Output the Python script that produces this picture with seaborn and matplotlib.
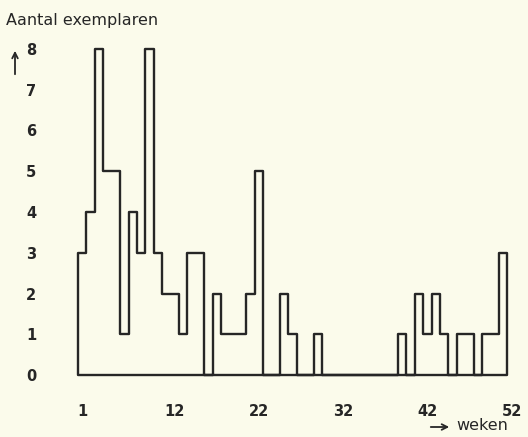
import numpy as np
import matplotlib
matplotlib.use("Agg")
import matplotlib.pyplot as plt
import seaborn as sns
import pandas as pd

# weekly counts (weeks 1..51 as drawn)
weeks = list(range(1, 52))
counts = [3, 4, 8, 5, 5, 1, 4, 3, 8, 3,
          2, 2, 1, 3, 3, 0, 2, 1, 1, 1,
          2, 5, 0, 0, 2, 1, 0, 0, 1, 0,
          0, 0, 0, 0, 0, 0, 0, 0, 1, 0,
          2, 1, 2, 1, 0, 1, 1, 0, 1, 1, 3]
x_ticks = [1, 12, 22, 32, 42, 52]
y_ticks = [0, 1, 2, 3, 4, 5, 6, 7, 8]

bg = "#fbfbeb"
ink = "#262626"

sns.set_style("white")
plt.rcParams["font.family"] = ["DejaVu Sans"]

df = pd.DataFrame({"week": weeks, "count": counts})

fig = plt.figure(figsize=(5.28, 4.37), dpi=100, facecolor=bg)
ax = fig.add_axes([78 / 528, 62 / 437, 437.8 / 528, 326 / 437], facecolor=bg)

sns.histplot(data=df, x="week", weights="count", binwidth=1,
             binrange=(0.5, 51.5), element="step", fill=True,
             facecolor="none", color=ink, linewidth=1.7, ax=ax)

ax.set_xlim(0.5, 52.5)
ax.set_ylim(0, 8)
for s in ax.spines.values():
    s.set_visible(False)
for c in ax.collections:
    c.set_clip_on(False)

ax.set_xticks(x_ticks)
ax.set_yticks(y_ticks)
ax.tick_params(axis="both", length=0, labelsize=10.5, colors=ink)
ax.tick_params(axis="x", pad=21)
ax.tick_params(axis="y", pad=30)
for lbl in ax.get_xticklabels() + ax.get_yticklabels():
    lbl.set_fontweight("bold")
ax.set_xlabel("")
ax.set_ylabel("")

fig.text(6 / 528, 1 - 21 / 437, "Aantal exemplaren", fontsize=11.5,
         color=ink, ha="left", va="center")
ax.annotate("", xy=(15 / 528, 1 - 48 / 437), xycoords="figure fraction",
            xytext=(15 / 528, 1 - 77 / 437), textcoords="figure fraction",
            arrowprops=dict(arrowstyle="->", color=ink, lw=1.3))
ax.annotate("", xy=(452 / 528, 1 - 427 / 437), xycoords="figure fraction",
            xytext=(428 / 528, 1 - 427 / 437), textcoords="figure fraction",
            arrowprops=dict(arrowstyle="->", color=ink, lw=1.3))
fig.text(456 / 528, 1 - 426 / 437, "weken", fontsize=11.5, color=ink,
         ha="left", va="center")

fig.savefig("out.png", dpi=100, facecolor=bg)
